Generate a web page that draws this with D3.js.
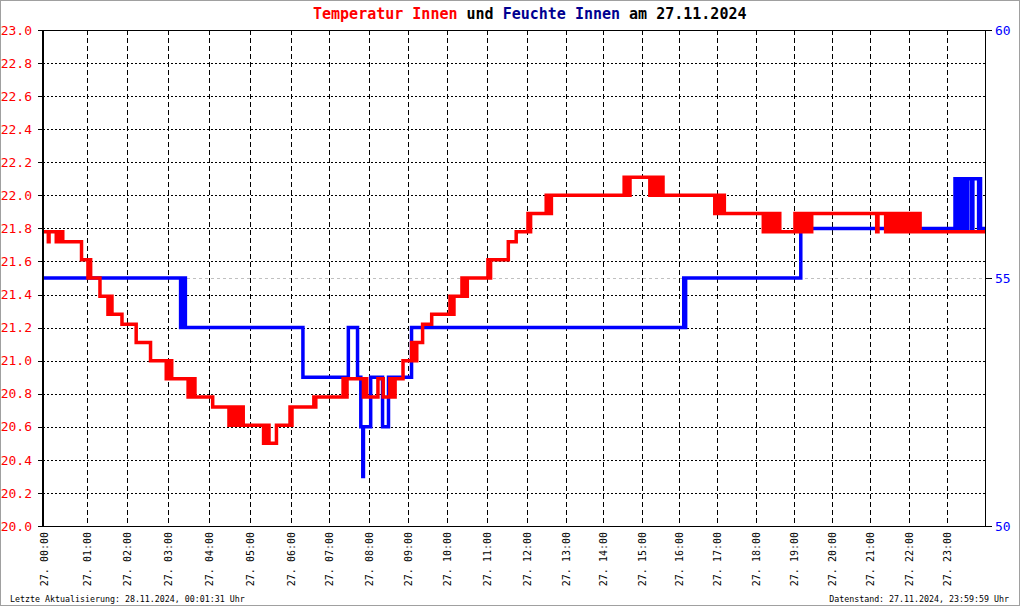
<!DOCTYPE html>
<html>
<head>
<meta charset="utf-8">
<script src="https://cdn.jsdelivr.net/npm/d3@7"></script>
<style>
  body { margin: 0; background: #fff; }
  svg { display: block; }
  text { font-family: "DejaVu Sans Mono", "Liberation Mono", monospace; }
</style>
</head>
<body>
<div id="chart"></div>
<script>
// hours of the day and their labels
var hours = d3.range(25);
var hourLabels = d3.range(24).map(function(h) {
  return "27. " + String(h).padStart(2, "0") + ":00";
});
var tempTicks = d3.range(0, 16).map(function(i) { return 20 + i * 0.2; });
var humTicks = [50, 55, 60];

// Temperatur Innen [Uhrzeit, °C]
var innenTemp = [
  ["0:00",21.78],["0:06",21.72],["0:07",21.78],
  ["0:17",21.72],["0:18",21.78],["0:20",21.72],["0:21",21.78],["0:23",21.72],["0:24",21.78],["0:26",21.72],
  ["0:52",21.61],
  ["1:01",21.5],["1:02",21.61],["1:03",21.5],["1:04",21.61],["1:05",21.5],
  ["1:19",21.39],
  ["1:31",21.28],["1:32",21.39],["1:34",21.28],["1:35",21.39],["1:37",21.28],
  ["1:52",21.22],
  ["2:13",21.11],
  ["2:34",21.0],
  ["2:57",20.89],["2:58",21.0],["3:00",20.89],["3:01",21.0],["3:03",20.89],["3:04",21.0],["3:05",20.89],
  ["3:29",20.78],["3:31",20.89],["3:33",20.78],["3:34",20.89],["3:36",20.78],["3:37",20.89],["3:39",20.78],
  ["4:05",20.72],
  ["4:29",20.61],["4:31",20.72],["4:33",20.61],["4:34",20.72],["4:37",20.61],["4:39",20.72],["4:42",20.61],["4:44",20.72],["4:46",20.61],["4:48",20.72],["4:50",20.61],
  ["5:20",20.5],["5:22",20.61],["5:24",20.5],["5:26",20.61],["5:28",20.5],
  ["5:39",20.61],
  ["5:59",20.72],["6:00",20.61],["6:02",20.72],
  ["6:36",20.78],["6:37",20.72],["6:39",20.78],
  ["7:21",20.89],["7:22",20.78],["7:24",20.89],["7:25",20.78],["7:27",20.89],
  ["7:52",20.78],["7:53",20.89],["7:55",20.78],["7:56",20.89],["7:57",20.78],
  ["8:14",20.89],
  ["8:22",20.78],
  ["8:32",20.89],["8:33",20.78],["8:35",20.89],["8:37",20.78],["8:40",20.89],
  ["8:52",21.0],
  ["9:05",21.11],["9:07",21.0],["9:09",21.11],["9:11",21.0],["9:13",21.11],
  ["9:22",21.22],
  ["9:36",21.28],
  ["10:04",21.39],["10:06",21.28],["10:08",21.39],["10:09",21.28],["10:10",21.39],
  ["10:22",21.5],["10:24",21.39],["10:27",21.5],["10:29",21.39],["10:30",21.5],
  ["11:01",21.61],["11:03",21.5],["11:05",21.61],
  ["11:32",21.72],
  ["11:44",21.78],
  ["12:02",21.89],["12:04",21.78],["12:06",21.89],
  ["12:30",22.0],["12:32",21.89],["12:34",22.0],["12:36",21.89],["12:38",22.0],
  ["14:33",22.11],["14:35",22.0],["14:37",22.11],["14:39",22.0],["14:42",22.11],
  ["15:13",22.0],["15:15",22.11],["15:18",22.0],["15:20",22.11],["15:24",22.0],["15:27",22.11],["15:30",22.0],["15:32",22.11],["15:34",22.0],
  ["16:56",21.89],["16:58",22.0],["17:01",21.89],["17:03",22.0],["17:06",21.89],["17:08",22.0],["17:11",21.89],
  ["18:12",21.78],["18:14",21.89],["18:17",21.78],["18:19",21.89],["18:22",21.78],["18:25",21.89],["18:30",21.78],["18:33",21.89],["18:38",21.78],
  ["19:02",21.89],["19:04",21.78],["19:06",21.89],["19:08",21.78],["19:11",21.89],["19:13",21.78],["19:16",21.89],["19:18",21.78],["19:21",21.89],["19:24",21.78],["19:28",21.89],
  ["21:10",21.78],["21:12",21.89],
  ["21:24",21.78],["21:26",21.89],["21:28",21.78],["21:30",21.89],["21:32",21.78],["21:34",21.89],["21:36",21.78],["21:39",21.89],["21:42",21.78],["21:45",21.89],["21:48",21.78],["21:52",21.89],["21:55",21.78],["21:58",21.89],["22:01",21.78],["22:05",21.89],["22:08",21.78],["22:12",21.89],["22:15",21.78],["22:17",21.89],["22:18",21.78],
  ["24:00",21.78]
];

// Feuchte Innen [Uhrzeit, %]
var innenFeuchte = [
  ["0:00",55],
  ["3:18",54],["3:20",55],["3:21",54],["3:23",55],["3:25",54],
  ["6:19",53],
  ["7:29",54],["7:43",53],["7:48",52],["7:51",51],["7:52",52],
  ["8:03",53],["8:21",52],["8:30",53],
  ["9:05",54],
  ["16:07",55],["16:08",54],["16:10",55],
  ["19:11",56],
  ["23:13",57],["23:15",56],["23:17",57],["23:19",56],["23:21",57],["23:24",56],["23:26",57],["23:29",56],
  ["23:33",57],["23:39",56],["23:41",57],["23:50",56],["23:52",57],["23:53",56],
  ["24:00",56]
];

var width = 1020, height = 606;
var plot = { left: 43, right: 985, top: 30, bottom: 526 };
// pixel position of each full hour on the time axis (slightly uneven in the original)
var hourPos = [44, 87.3, 127.3, 168.3, 209.3, 250, 290.7, 329.3, 368.7, 408.3, 447.3, 487.3,
  526.7, 565.7, 602.7, 641.7, 679.3, 717.3, 755.7, 793.7, 832.3, 870.3, 908.7, 946.7, 985];

function toHours(t) {
  var p = t.split(":");
  return +p[0] + p[1] / 60;
}

var x = d3.scaleLinear().domain(hours).range(hourPos);
var yT = d3.scaleLinear().domain([20, 23]).range([plot.bottom, plot.top]);
var yH = d3.scaleLinear().domain([50, 60]).range([plot.bottom, plot.top]);

var svg = d3.select("#chart").append("svg")
  .attr("width", width)
  .attr("height", height);

// outer frame
svg.append("rect")
  .attr("x", 0.5).attr("y", 0.5)
  .attr("width", width - 1).attr("height", height - 1)
  .style("fill", "#fff")
  .style("stroke", "#a0a0a0");

// ********** GRID ********** //
var grid = svg.append("g").attr("shape-rendering", "crispEdges");
grid.selectAll("line.h")
  .data(tempTicks.slice(1, -1))
  .enter().append("line")
  .attr("class", "h")
  .attr("x1", plot.left).attr("x2", plot.right)
  .attr("y1", function(d) { return Math.round(yT(d)) + 0.5; })
  .attr("y2", function(d) { return Math.round(yT(d)) + 0.5; })
  .style("stroke", "#000")
  .style("stroke-dasharray", "2,2");
grid.append("line")
  .attr("x1", plot.left).attr("x2", plot.right)
  .attr("y1", Math.round(yH(55)) + 0.5).attr("y2", Math.round(yH(55)) + 0.5)
  .style("stroke", "#c0c0c0")
  .style("stroke-dasharray", "3,3");
grid.selectAll("line.v")
  .data(d3.range(1, 24))
  .enter().append("line")
  .attr("class", "v")
  .attr("y1", plot.top).attr("y2", plot.bottom)
  .attr("x1", function(d) { return Math.round(x(d)) + 0.5; })
  .attr("x2", function(d) { return Math.round(x(d)) + 0.5; })
  .style("stroke", "#000")
  .style("stroke-dasharray", "5,3");

// ********** LINES ********** //
function stepLine(yScale) {
  return d3.line()
    .x(function(d) { return x(toHours(d[0])); })
    .y(function(d) { return yScale(d[1]); })
    .curve(d3.curveStepAfter);
}
svg.append("path")
  .datum(innenFeuchte)
  .attr("d", stepLine(yH))
  .style("fill", "none")
  .style("stroke", "#0000ff")
  .style("stroke-width", "3.5px");
svg.append("path")
  .datum(innenTemp)
  .attr("d", stepLine(yT))
  .style("fill", "none")
  .style("stroke", "#ff0000")
  .style("stroke-width", "3.5px");

// ********** FRAME & AXES ********** //
svg.append("path")
  .attr("d", `M${plot.left + 0.5},${plot.bottom + 0.5} H${plot.right + 0.5} V${plot.top + 0.5} H${plot.left + 0.5} Z`)
  .attr("shape-rendering", "crispEdges")
  .style("fill", "none")
  .style("stroke", "#000");
svg.append("line")
  .attr("x1", plot.left).attr("x2", plot.left)
  .attr("y1", plot.top).attr("y2", plot.bottom)
  .style("stroke", "#000")
  .style("stroke-width", "2px");

var axL = svg.append("g")
  .attr("transform", `translate(${plot.left},0)`)
  .call(d3.axisLeft(yT).tickValues(tempTicks).tickSize(5).tickPadding(6).tickFormat(d3.format(".1f")));
axL.select(".domain").remove();
axL.selectAll("line").style("stroke", "#000").attr("shape-rendering", "crispEdges");
axL.selectAll("text")
  .style("fill", "#ff0000")
  .style("font-size", "13px")
  .style("font-family", "'DejaVu Sans Mono', monospace");

var axR = svg.append("g")
  .attr("transform", `translate(${plot.right},0)`)
  .call(d3.axisRight(yH).tickValues(humTicks).tickSize(7).tickPadding(3));
axR.select(".domain").remove();
axR.selectAll("line").style("stroke", "#000").attr("shape-rendering", "crispEdges");
axR.selectAll("text")
  .style("fill", "#0000ff")
  .style("font-size", "13px")
  .style("font-family", "'DejaVu Sans Mono', monospace");

var axB = svg.append("g")
  .attr("transform", `translate(0,${plot.bottom})`)
  .call(d3.axisBottom(x).tickValues(d3.range(24)).tickSize(0)
    .tickFormat(function(d) { return hourLabels[d]; }));
axB.select(".domain").remove();
axB.selectAll("text")
  .attr("transform", "rotate(-90)")
  .attr("x", -6).attr("y", 0).attr("dy", "0.35em")
  .style("text-anchor", "end")
  .style("fill", "#000")
  .style("font-size", "10px")
  .style("font-family", "'DejaVu Sans Mono', monospace");

// ********** TEXTS ********** //
var title = svg.append("text")
  .attr("x", 313).attr("y", 19)
  .style("font-size", "15px")
  .style("font-weight", "bold")
  .style("white-space", "pre");
[["Temperatur Innen", "#ff0000"], [" und ", "#000"], ["Feuchte Innen", "#000090"], [" am 27.11.2024", "#000"]]
  .forEach(function(p) {
    title.append("tspan").text(p[0]).style("fill", p[1]);
  });

svg.append("text")
  .attr("x", 10).attr("y", 602)
  .style("font-size", "8.3px")
  .style("fill", "#000")
  .text("Letzte Aktualisierung: 28.11.2024, 00:01:31 Uhr");
svg.append("text")
  .attr("x", 1009).attr("y", 602)
  .style("font-size", "8.3px")
  .style("text-anchor", "end")
  .style("fill", "#000")
  .text("Datenstand: 27.11.2024, 23:59:59 Uhr");
</script>
</body>
</html>
